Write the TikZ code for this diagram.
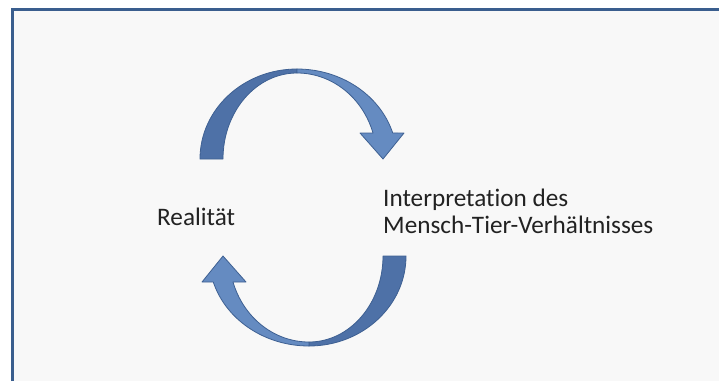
\documentclass[tikz,border=0pt]{standalone}
\usepackage{fontspec}
\setmainfont{Carlito}[Ligatures={NoCommon,NoContextual,NoRare}]
\definecolor{panel}{RGB}{248,248,248}
\definecolor{frameblue}{RGB}{58,94,142}
\definecolor{lightband}{RGB}{101,139,193}
\definecolor{darkband}{RGB}{78,113,167}
\definecolor{bandline}{RGB}{62,96,146}
\definecolor{txt}{RGB}{34,34,34}
\tikzset{
  darkpart/.style={fill=darkband, draw=bandline, line width=0.8pt, line join=round},
  lightpart/.style={fill=lightband, draw=bandline, line width=0.8pt, line join=round},
  label/.style={font=\fontsize{25.2}{27}\selectfont, text=txt, inner sep=0pt, align=left}
}
\newcommand{\curvedarrowshape}{%
  \path[darkpart] (200,159) arc[start angle=180,end angle=270,x radius=97,y radius=90]
    -- (297,73) arc[start angle=270,end angle=180,x radius=74,y radius=86] -- cycle;
  \path[lightpart] (297,69) arc[start angle=270,end angle=343.2,x radius=100,y radius=90]
    -- (404,133) -- (383,159) -- (360,133) -- (373,133)
    arc[start angle=342.4,end angle=270,x radius=79.7,y radius=86] -- cycle;
}
\begin{document}
\begin{tikzpicture}[x=1pt,y=-1pt]
\useasboundingbox (0,0) rectangle (719,381);
\fill[white] (0,0) rectangle (719,381);
\fill[panel] (12,9) rectangle (719,381);
\draw[frameblue, line width=2.6pt] (12.3,381) -- (12.3,9.3) -- (719,9.3);
\begin{scope}
\curvedarrowshape
\end{scope}
\begin{scope}[shift={(606,415)}, xscale=-1, yscale=-1]
\curvedarrowshape
\end{scope}
\node[label, anchor=base west] (real) at (157,225) {Realität};
\node[label, anchor=base west] (interp1) at (383,206) {Interpretation des};
\node[label, anchor=base west] (interp2) at (383,233) {Mensch-Tier-Verhältnisses};
\end{tikzpicture}
\end{document}
